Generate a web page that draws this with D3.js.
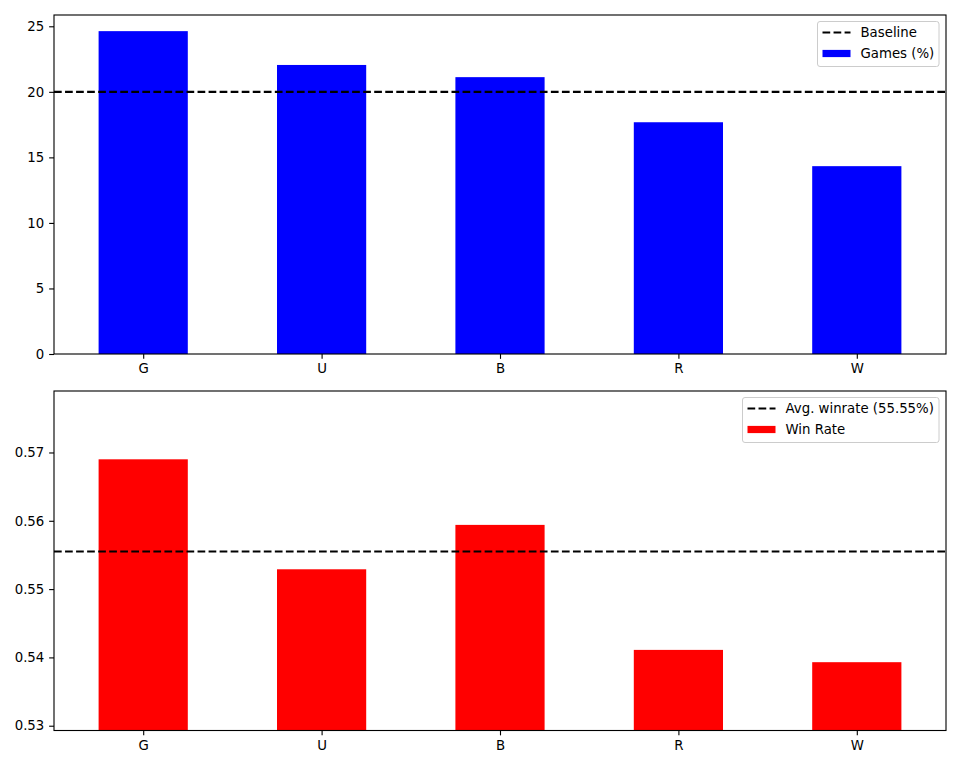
<!DOCTYPE html>
<html>
<head>
<meta charset="utf-8">
<script src="https://cdn.jsdelivr.net/npm/d3@7"></script>
<style>
  html, body { margin: 0; padding: 0; background: #fff; }
  text { font-family: "DejaVu Sans", sans-serif; }
</style>
</head>
<body>
<svg id="chart" width="960" height="768"></svg>
<script>
const categories = ["G", "U", "B", "R", "W"];
const gamesPct = [24.63, 22.05, 21.12, 17.68, 14.33];
const winRate = [0.5690, 0.5529, 0.5594, 0.5411, 0.5393];
const baseline = 20;
const avgWinrate = 0.5555;
const topTicks = [0, 5, 10, 15, 20, 25];
const bottomTicks = [0.53, 0.54, 0.55, 0.56, 0.57];

const svg = d3.select("#chart");
const px = 100 / 72;
const fontSize = 13.3;
const dash = `${3.7 * 1.5 * px},${1.6 * 1.5 * px}`;

function panel(cfg) {
  const { top, bottom, left, right, values, yDomain, ticks, tickFmt, color, refValue, legend } = cfg;
  const g = svg.append("g");
  const x = d3.scaleLinear().domain([-0.5, categories.length - 0.5]).range([left, right]);
  const y = d3.scaleLinear().domain(yDomain).range([bottom, top]);

  const clipId = "clip" + Math.round(top);
  svg.append("clipPath").attr("id", clipId)
    .append("rect").attr("x", left).attr("y", top).attr("width", right - left).attr("height", bottom - top);

  const plot = g.append("g").attr("clip-path", `url(#${clipId})`);
  plot.selectAll("rect.bar").data(values).join("rect")
    .attr("class", "bar")
    .attr("x", (d, i) => x(i - 0.25))
    .attr("width", (d, i) => x(i + 0.25) - x(i - 0.25))
    .attr("y", d => y(d))
    .attr("height", d => y(yDomain[0]) - y(d))
    .attr("fill", color);

  plot.append("line")
    .attr("x1", left).attr("x2", right)
    .attr("y1", y(refValue)).attr("y2", y(refValue))
    .attr("stroke", "#000").attr("stroke-width", 1.5 * px)
    .attr("stroke-dasharray", dash);

  // y axis
  const yAxis = d3.axisLeft(y).tickValues(ticks).tickFormat(tickFmt)
    .tickSize(3.5 * px).tickPadding(3.5 * px);
  const ya = g.append("g").attr("transform", `translate(${left},0)`).call(yAxis);
  ya.select(".domain").remove();
  ya.selectAll(".tick line").attr("stroke", "#000").attr("stroke-width", 0.8 * px);
  ya.selectAll(".tick text").attr("font-size", fontSize).attr("fill", "#000")
    .attr("font-family", "DejaVu Sans, sans-serif");

  // x axis
  const xAxis = d3.axisBottom(x).tickValues(d3.range(categories.length))
    .tickFormat(i => categories[i]).tickSize(3.5 * px).tickPadding(3.5 * px);
  const xa = g.append("g").attr("transform", `translate(0,${bottom})`).call(xAxis);
  xa.select(".domain").remove();
  xa.selectAll(".tick line").attr("stroke", "#000").attr("stroke-width", 0.8 * px);
  xa.selectAll(".tick text").attr("font-size", fontSize).attr("fill", "#000")
    .attr("font-family", "DejaVu Sans, sans-serif");

  // spines
  g.append("rect").attr("x", left).attr("y", top)
    .attr("width", right - left).attr("height", bottom - top)
    .attr("fill", "none").attr("stroke", "#000").attr("stroke-width", 0.8 * px);

  // legend
  const lg = g.append("g");
  const lx = legend.x, ly = top + 6.5, lw = right - 7 - legend.x, lh = 45;
  lg.append("rect").attr("x", lx).attr("y", ly).attr("width", lw).attr("height", lh)
    .attr("rx", 2.5).attr("ry", 2.5)
    .attr("fill", "#fff").attr("fill-opacity", 0.8)
    .attr("stroke", "#ccc").attr("stroke-width", 1);
  const hx = lx + 5, hw = 28;
  const row1 = ly + 11, row2 = ly + 32;
  lg.append("line").attr("x1", hx).attr("x2", hx + hw).attr("y1", row1).attr("y2", row1)
    .attr("stroke", "#000").attr("stroke-width", 1.5 * px).attr("stroke-dasharray", dash);
  lg.append("text").attr("x", hx + hw + 10).attr("y", row1).attr("dy", "0.35em")
    .attr("font-size", fontSize).attr("fill", "#000").text(legend.labels[0]);
  lg.append("rect").attr("x", hx).attr("y", row2 - 3.6).attr("width", hw).attr("height", 7.2)
    .attr("fill", color);
  lg.append("text").attr("x", hx + hw + 10).attr("y", row2).attr("dy", "0.35em")
    .attr("font-size", fontSize).attr("fill", "#000").text(legend.labels[1]);
}

const topMax = d3.max(gamesPct);
panel({
  top: 15, bottom: 354, left: 54, right: 946,
  values: gamesPct,
  yDomain: [0, topMax * 1.05],
  ticks: topTicks, tickFmt: d3.format("d"),
  color: "#0000ff", refValue: baseline,
  legend: { x: 817.5, labels: ["Baseline", "Games (%)"] }
});

panel({
  top: 391, bottom: 730.5, left: 54, right: 946,
  values: winRate,
  yDomain: [d3.min(winRate) - 0.01, d3.max(winRate) + 0.01],
  ticks: bottomTicks, tickFmt: d3.format(".2f"),
  color: "#ff0000", refValue: avgWinrate,
  legend: { x: 742.5, labels: ["Avg. winrate (55.55%)", "Win Rate"] }
});
</script>
</body>
</html>
